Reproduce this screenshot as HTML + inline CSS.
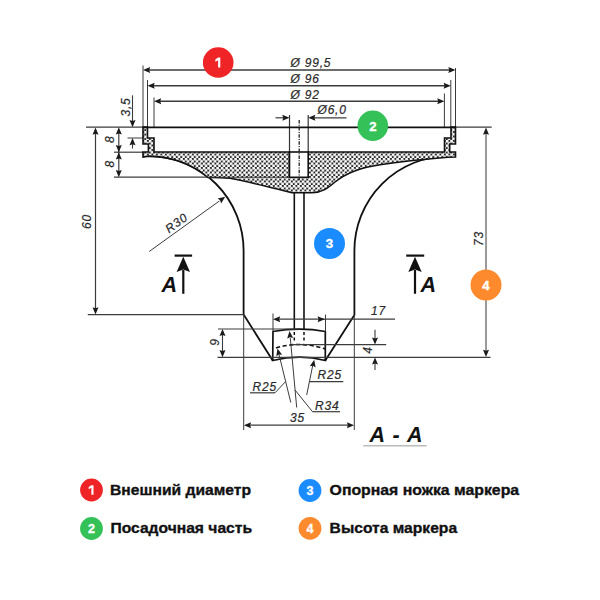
<!DOCTYPE html>
<html><head><meta charset="utf-8"><style>
html,body{margin:0;padding:0;background:#fff;width:600px;height:600px;overflow:hidden}
svg{display:block}
</style></head><body>
<svg width="600" height="600" viewBox="0 0 600 600">
<defs>
<pattern id="hx" patternUnits="userSpaceOnUse" width="4.5" height="4.5" x="0.3" y="0.5">
<rect width="4.5" height="4.5" fill="#2a2a2a"/>
<circle cx="1.125" cy="1.125" r="1.52" fill="#fff"/>
<circle cx="3.375" cy="3.375" r="1.52" fill="#fff"/>
</pattern>
</defs>
<rect width="600" height="600" fill="#fff"/>
<line x1="143.00" y1="65.50" x2="143.00" y2="127.00" stroke="#3c3c3c" stroke-width="1"/>
<line x1="455.50" y1="68.00" x2="455.50" y2="127.00" stroke="#3c3c3c" stroke-width="1"/>
<line x1="148.00" y1="70.00" x2="450.50" y2="70.00" stroke="#3c3c3c" stroke-width="1.4"/>
<polygon points="143.00,70.00 150.20,67.00 149.20,70.00 150.20,73.00" fill="#1a1a1a"/>
<polygon points="455.50,70.00 448.30,73.00 449.30,70.00 448.30,67.00" fill="#1a1a1a"/>
<line x1="147.50" y1="80.00" x2="147.50" y2="127.00" stroke="#3c3c3c" stroke-width="1"/>
<line x1="450.80" y1="80.00" x2="450.80" y2="127.00" stroke="#3c3c3c" stroke-width="1"/>
<line x1="152.50" y1="85.70" x2="445.80" y2="85.70" stroke="#3c3c3c" stroke-width="1.4"/>
<polygon points="147.50,85.70 154.70,82.70 153.70,85.70 154.70,88.70" fill="#1a1a1a"/>
<polygon points="450.80,85.70 443.60,88.70 444.60,85.70 443.60,82.70" fill="#1a1a1a"/>
<line x1="154.00" y1="97.50" x2="154.00" y2="127.00" stroke="#3c3c3c" stroke-width="1"/>
<line x1="444.40" y1="93.50" x2="444.40" y2="127.00" stroke="#3c3c3c" stroke-width="1"/>
<line x1="159.00" y1="101.30" x2="439.40" y2="101.30" stroke="#3c3c3c" stroke-width="1.4"/>
<polygon points="154.00,101.30 161.20,98.30 160.20,101.30 161.20,104.30" fill="#1a1a1a"/>
<polygon points="444.40,101.30 437.20,104.30 438.20,101.30 437.20,98.30" fill="#1a1a1a"/>
<line x1="289.50" y1="115.00" x2="289.50" y2="152.00" stroke="#333" stroke-width="1.2"/>
<line x1="308.20" y1="115.00" x2="308.20" y2="152.00" stroke="#333" stroke-width="1.2"/>
<line x1="275.50" y1="117.80" x2="285.00" y2="117.80" stroke="#3c3c3c" stroke-width="1.2"/>
<polygon points="289.50,117.80 282.30,120.80 283.30,117.80 282.30,114.80" fill="#1a1a1a"/>
<line x1="313.00" y1="117.80" x2="346.50" y2="117.80" stroke="#3c3c3c" stroke-width="1.2"/>
<polygon points="308.20,117.80 315.40,114.80 314.40,117.80 315.40,120.80" fill="#1a1a1a"/>
<line x1="86.00" y1="127.20" x2="143.00" y2="127.20" stroke="#3c3c3c" stroke-width="1.2"/>
<line x1="455.50" y1="127.20" x2="491.70" y2="127.20" stroke="#3c3c3c" stroke-width="1.2"/>
<line x1="114.00" y1="152.20" x2="143.00" y2="152.20" stroke="#3c3c3c" stroke-width="1.2"/>
<line x1="114.00" y1="177.20" x2="208.00" y2="177.20" stroke="#3c3c3c" stroke-width="1.2"/>
<line x1="127.50" y1="138.00" x2="143.00" y2="138.00" stroke="#3c3c3c" stroke-width="1"/>
<path d="M149,156.1 A94.5,94.5 0 0 1 243.6,250.6 L243.6,314.6 L272.7,360.5" fill="none" stroke="#111" stroke-width="1.8"/>
<path d="M448.9,156.1 A94.5,94.5 0 0 0 354.4,250.6 L354.4,315 L325.3,360.5" fill="none" stroke="#111" stroke-width="1.8"/>
<path d="M143,127 L147.5,127 L147.5,138 L154,138 L154,152 L289.5,152 L289.5,177.3 L308.2,177.3 L308.2,152 L444.5,152 L444.5,138 L451.0,138 L451.0,127 L455.5,127 L455.5,144 L449.7,144 L449.7,152 L455.5,152 L455.5,157 L448,157.2 C430,158.6 400,161.5 380,164.7 C360,167.5 345,174 335,182 C328,188 322,192.7 312,192.7 L292,192.6 C270,187.5 250,182 230,178.3 C220,177.5 214,177.4 208,177.5 A94.5,94.5 0 0 0 149,156.1 L143,157 L143,152 L148.4,152 L148.4,144 L143,144 Z" fill="url(#hx)" stroke="#111" stroke-width="1.6" stroke-linejoin="miter"/>
<rect x="289.5" y="152" width="18.69999999999999" height="25.30000000000001" fill="#fff" stroke="#111" stroke-width="1.6"/>
<line x1="299.2" y1="120" x2="299.2" y2="181" stroke="#222" stroke-width="1.3" stroke-dasharray="3.5,1.3,1,1.3"/>
<line x1="208.00" y1="177.20" x2="289.50" y2="177.20" stroke="#333" stroke-width="1.0"/>
<line x1="143.00" y1="127.30" x2="455.50" y2="127.30" stroke="#111" stroke-width="1.8"/>
<line x1="294.30" y1="192.50" x2="294.30" y2="330.00" stroke="#111" stroke-width="1.6"/>
<line x1="304.00" y1="192.50" x2="304.00" y2="330.00" stroke="#111" stroke-width="1.6"/>
<line x1="294.3" y1="332" x2="294.3" y2="341" stroke="#111" stroke-width="1.5" stroke-dasharray="3,2.5"/>
<line x1="304" y1="332" x2="304" y2="341" stroke="#111" stroke-width="1.5" stroke-dasharray="3,2.5"/>
<path d="M273,331.5 Q300,326.9 325.3,331.5 L325.3,360.5 Q300,353.9 272.7,360.5 Z" fill="none" stroke="#111" stroke-width="1.7"/>
<path d="M276,348 Q300,340.5 325,349" fill="none" stroke="#111" stroke-width="1.6" stroke-dasharray="4.2,2.6"/>
<line x1="95.50" y1="132.00" x2="95.50" y2="310.00" stroke="#3c3c3c" stroke-width="1.2"/>
<polygon points="95.50,127.50 98.50,134.70 95.50,133.70 92.50,134.70" fill="#1a1a1a"/>
<polygon points="95.50,314.50 92.50,307.30 95.50,308.30 98.50,307.30" fill="#1a1a1a"/>
<line x1="87.80" y1="314.70" x2="243.60" y2="314.70" stroke="#3c3c3c" stroke-width="1.2"/>
<line x1="118.80" y1="130.00" x2="118.80" y2="174.00" stroke="#3c3c3c" stroke-width="1.2"/>
<polygon points="118.80,127.30 121.80,134.50 118.80,133.50 115.80,134.50" fill="#1a1a1a"/>
<polygon points="118.80,152.20 115.80,145.00 118.80,146.00 121.80,145.00" fill="#1a1a1a"/>
<polygon points="118.80,152.20 121.80,159.40 118.80,158.40 115.80,159.40" fill="#1a1a1a"/>
<polygon points="118.80,177.20 115.80,170.00 118.80,171.00 121.80,170.00" fill="#1a1a1a"/>
<line x1="132.50" y1="95.30" x2="132.50" y2="122.00" stroke="#3c3c3c" stroke-width="1.1"/>
<polygon points="132.50,127.20 129.50,120.00 132.50,121.00 135.50,120.00" fill="#1a1a1a"/>
<line x1="132.50" y1="143.00" x2="132.50" y2="148.50" stroke="#3c3c3c" stroke-width="1.1"/>
<polygon points="132.50,138.00 135.50,145.20 132.50,144.20 129.50,145.20" fill="#1a1a1a"/>
<line x1="486.00" y1="133.00" x2="486.00" y2="351.00" stroke="#9a9a9a" stroke-width="2"/>
<polygon points="486.00,127.50 489.00,134.70 486.00,133.70 483.00,134.70" fill="#1a1a1a"/>
<polygon points="486.00,357.00 483.00,349.80 486.00,350.80 489.00,349.80" fill="#1a1a1a"/>
<line x1="217.50" y1="357.40" x2="490.50" y2="357.40" stroke="#3c3c3c" stroke-width="1.2"/>
<line x1="218.00" y1="329.00" x2="300.00" y2="329.00" stroke="#3c3c3c" stroke-width="1.2"/>
<line x1="222.50" y1="333.00" x2="222.50" y2="353.00" stroke="#3c3c3c" stroke-width="1.1"/>
<polygon points="222.50,328.90 225.50,336.10 222.50,335.10 219.50,336.10" fill="#1a1a1a"/>
<polygon points="222.50,357.30 219.50,350.10 222.50,351.10 225.50,350.10" fill="#1a1a1a"/>
<line x1="273.00" y1="313.50" x2="273.00" y2="331.50" stroke="#3c3c3c" stroke-width="1"/>
<line x1="325.50" y1="314.50" x2="325.50" y2="331.50" stroke="#3c3c3c" stroke-width="1"/>
<line x1="278.00" y1="319.20" x2="395.00" y2="319.20" stroke="#3c3c3c" stroke-width="1.3"/>
<polygon points="273.00,319.20 280.20,316.20 279.20,319.20 280.20,322.20" fill="#1a1a1a"/>
<polygon points="324.80,319.20 317.60,322.20 318.60,319.20 317.60,316.20" fill="#1a1a1a"/>
<line x1="375.00" y1="329.70" x2="375.00" y2="340.00" stroke="#3c3c3c" stroke-width="1.1"/>
<polygon points="375.00,344.60 372.00,337.40 375.00,338.40 378.00,337.40" fill="#1a1a1a"/>
<line x1="375.00" y1="362.00" x2="375.00" y2="370.00" stroke="#3c3c3c" stroke-width="1.1"/>
<polygon points="375.00,357.40 378.00,364.60 375.00,363.60 372.00,364.60" fill="#1a1a1a"/>
<line x1="292.00" y1="344.60" x2="386.20" y2="344.60" stroke="#3c3c3c" stroke-width="1.2"/>
<line x1="243.70" y1="314.60" x2="243.70" y2="430.00" stroke="#3c3c3c" stroke-width="1"/>
<line x1="354.30" y1="315.00" x2="354.30" y2="430.00" stroke="#3c3c3c" stroke-width="1"/>
<line x1="249.00" y1="425.20" x2="349.00" y2="425.20" stroke="#3c3c3c" stroke-width="1.2"/>
<polygon points="243.90,425.20 251.10,422.20 250.10,425.20 251.10,428.20" fill="#1a1a1a"/>
<polygon points="354.10,425.20 346.90,428.20 347.90,425.20 346.90,422.20" fill="#1a1a1a"/>
<line x1="279.00" y1="354.50" x2="290.80" y2="402.50" stroke="#3c3c3c" stroke-width="1"/>
<polygon points="277.50,348.50 282.13,354.77 278.98,354.52 276.31,356.21" fill="#1a1a1a"/>
<line x1="290.30" y1="338.00" x2="296.70" y2="407.50" stroke="#3c3c3c" stroke-width="1"/>
<polygon points="289.50,331.00 293.16,337.89 290.08,337.17 287.19,338.45" fill="#1a1a1a"/>
<line x1="250.00" y1="392.80" x2="275.00" y2="392.80" stroke="#3c3c3c" stroke-width="1.2"/>
<line x1="275.00" y1="392.80" x2="285.50" y2="381.70" stroke="#3c3c3c" stroke-width="1"/>
<line x1="295.00" y1="390.00" x2="312.50" y2="411.70" stroke="#3c3c3c" stroke-width="1"/>
<line x1="312.50" y1="411.70" x2="340.00" y2="411.70" stroke="#3c3c3c" stroke-width="1.2"/>
<line x1="313.00" y1="364.00" x2="306.70" y2="395.00" stroke="#3c3c3c" stroke-width="1"/>
<polygon points="314.20,359.80 315.63,367.47 312.91,365.86 309.77,366.22" fill="#1a1a1a"/>
<line x1="309.60" y1="381.70" x2="343.30" y2="381.70" stroke="#3c3c3c" stroke-width="1.2"/>
<line x1="149.20" y1="251.50" x2="219.50" y2="200.90" stroke="#3c3c3c" stroke-width="1"/>
<polygon points="225.20,196.75 221.11,203.39 220.17,200.37 217.60,198.52" fill="#1a1a1a"/>
<line x1="174.60" y1="255.60" x2="192.10" y2="255.60" stroke="#111" stroke-width="2.2"/>
<polygon points="183.3,256.7 176.60000000000002,272 183.3,269.5 190.0,272" fill="#111"/>
<line x1="183.30" y1="270.00" x2="183.30" y2="293.80" stroke="#111" stroke-width="2.2"/>
<line x1="406.20" y1="255.60" x2="424.20" y2="255.60" stroke="#111" stroke-width="2.2"/>
<polygon points="415,256.7 408.3,272 415,269.5 421.7,272" fill="#111"/>
<line x1="415.00" y1="270.00" x2="415.00" y2="293.80" stroke="#111" stroke-width="2.2"/>
<text x="290.5" y="66.5" font-size="12" font-style="italic" font-family="Liberation Sans, sans-serif" fill="#2a2a2a" letter-spacing="0.8" stroke="#2a2a2a" stroke-width="0.2">Ø 99,5</text>
<text x="290.5" y="82.5" font-size="12" font-style="italic" font-family="Liberation Sans, sans-serif" fill="#2a2a2a" letter-spacing="0.8" stroke="#2a2a2a" stroke-width="0.2">Ø 96</text>
<text x="290.5" y="98.5" font-size="12" font-style="italic" font-family="Liberation Sans, sans-serif" fill="#2a2a2a" letter-spacing="0.8" stroke="#2a2a2a" stroke-width="0.2">Ø 92</text>
<text x="317.5" y="114" font-size="12" font-style="italic" font-family="Liberation Sans, sans-serif" fill="#2a2a2a" letter-spacing="0.8" stroke="#2a2a2a" stroke-width="0.2">Ø6,0</text>
<text x="0" y="0" font-size="12" font-style="italic" text-anchor="middle" dominant-baseline="central" transform="translate(125.5,107) rotate(-90)" font-family="Liberation Sans, sans-serif" fill="#2a2a2a" letter-spacing="0.8" stroke="#2a2a2a" stroke-width="0.2">3,5</text>
<text x="0" y="0" font-size="12" font-style="italic" text-anchor="middle" dominant-baseline="central" transform="translate(109.5,139.2) rotate(-90)" font-family="Liberation Sans, sans-serif" fill="#2a2a2a" letter-spacing="0.8" stroke="#2a2a2a" stroke-width="0.2">8</text>
<text x="0" y="0" font-size="12" font-style="italic" text-anchor="middle" dominant-baseline="central" transform="translate(109.5,163.8) rotate(-90)" font-family="Liberation Sans, sans-serif" fill="#2a2a2a" letter-spacing="0.8" stroke="#2a2a2a" stroke-width="0.2">8</text>
<text x="0" y="0" font-size="12" font-style="italic" text-anchor="middle" dominant-baseline="central" transform="translate(87,221.5) rotate(-90)" font-family="Liberation Sans, sans-serif" fill="#2a2a2a" letter-spacing="0.8" stroke="#2a2a2a" stroke-width="0.2">60</text>
<text x="0" y="0" font-size="12" font-style="italic" text-anchor="middle" dominant-baseline="central" transform="translate(478.5,238.6) rotate(-90)" font-family="Liberation Sans, sans-serif" fill="#2a2a2a" letter-spacing="0.8" stroke="#2a2a2a" stroke-width="0.2">73</text>
<text x="0" y="0" font-size="12" font-style="italic" text-anchor="middle" dominant-baseline="central" transform="translate(215,342) rotate(-90)" font-family="Liberation Sans, sans-serif" fill="#2a2a2a" letter-spacing="0.8" stroke="#2a2a2a" stroke-width="0.2">9</text>
<text x="0" y="0" font-size="12" font-style="italic" text-anchor="middle" dominant-baseline="central" transform="translate(368,350) rotate(-90)" font-family="Liberation Sans, sans-serif" fill="#2a2a2a" letter-spacing="0.8" stroke="#2a2a2a" stroke-width="0.2">4</text>
<text x="0" y="0" font-size="12" font-style="italic" text-anchor="middle" dominant-baseline="central" transform="translate(176.5,223) rotate(-35.8)" font-family="Liberation Sans, sans-serif" fill="#2a2a2a" letter-spacing="0.8" stroke="#2a2a2a" stroke-width="0.2">R30</text>
<text x="371" y="314.6" font-size="12" font-style="italic" font-family="Liberation Sans, sans-serif" fill="#2a2a2a" letter-spacing="0.8" stroke="#2a2a2a" stroke-width="0.2">17</text>
<text x="252.5" y="390.8" font-size="12" font-style="italic" font-family="Liberation Sans, sans-serif" fill="#2a2a2a" letter-spacing="0.8" stroke="#2a2a2a" stroke-width="0.2">R25</text>
<text x="317.5" y="379" font-size="12" font-style="italic" font-family="Liberation Sans, sans-serif" fill="#2a2a2a" letter-spacing="0.8" stroke="#2a2a2a" stroke-width="0.2">R25</text>
<text x="315" y="410" font-size="12" font-style="italic" font-family="Liberation Sans, sans-serif" fill="#2a2a2a" letter-spacing="0.8" stroke="#2a2a2a" stroke-width="0.2">R34</text>
<text x="290" y="421.7" font-size="12" font-style="italic" font-family="Liberation Sans, sans-serif" fill="#2a2a2a" letter-spacing="0.8" stroke="#2a2a2a" stroke-width="0.2">35</text>
<text x="161.5" y="291.5" font-size="21.6" font-family="Liberation Sans, sans-serif" fill="#111" font-weight="bold" font-style="italic">A</text>
<text x="420.5" y="292.3" font-size="21.6" font-family="Liberation Sans, sans-serif" fill="#111" font-weight="bold" font-style="italic">A</text>
<text x="369.5" y="441.5" font-size="21.5" letter-spacing="1.1" font-family="Liberation Sans, sans-serif" fill="#111" font-weight="bold" font-style="italic">A - A</text>
<line x1="363.30" y1="445.80" x2="426.70" y2="445.80" stroke="#bbb" stroke-width="1.5"/>
<circle cx="218.2" cy="62.5" r="15.3" fill="#ee2426"/><path d="M215.30,59.50 L218.10,57.51 L220.30,57.51 L220.30,67.50 L218.10,67.50 L218.10,60.20 L215.30,61.70 Z" fill="#fff"/>
<circle cx="372.8" cy="125.8" r="15.3" fill="#34c158"/><text x="372.8" y="130.55" font-size="13.2" font-weight="bold" text-anchor="middle" font-family="Liberation Sans, sans-serif" fill="#fff" stroke="#fff" stroke-width="0.35">2</text>
<circle cx="329.5" cy="243.5" r="15.5" fill="#1a8cff"/><text x="329.5" y="248.25" font-size="13.2" font-weight="bold" text-anchor="middle" font-family="Liberation Sans, sans-serif" fill="#fff" stroke="#fff" stroke-width="0.35">3</text>
<circle cx="486" cy="285" r="15.5" fill="#fd8a2c"/><text x="486" y="289.75" font-size="13.2" font-weight="bold" text-anchor="middle" font-family="Liberation Sans, sans-serif" fill="#fff" stroke="#fff" stroke-width="0.35">4</text>
<circle cx="91.5" cy="490" r="11.4" fill="#ee2426"/><path d="M88.70,487.11 L91.39,485.19 L93.51,485.19 L93.51,494.81 L91.39,494.81 L91.39,487.79 L88.70,489.23 Z" fill="#fff"/>
<circle cx="91.5" cy="528.5" r="11.4" fill="#34c158"/><text x="91.5" y="533.00" font-size="12.5" font-weight="bold" text-anchor="middle" font-family="Liberation Sans, sans-serif" fill="#fff" stroke="#fff" stroke-width="0.35">2</text>
<circle cx="310" cy="490.5" r="11.4" fill="#1a8cff"/><text x="310" y="495.00" font-size="12.5" font-weight="bold" text-anchor="middle" font-family="Liberation Sans, sans-serif" fill="#fff" stroke="#fff" stroke-width="0.35">3</text>
<circle cx="310" cy="528.3" r="11.4" fill="#fd8a2c"/><text x="310" y="532.80" font-size="12.5" font-weight="bold" text-anchor="middle" font-family="Liberation Sans, sans-serif" fill="#fff" stroke="#fff" stroke-width="0.35">4</text>
<text x="110" y="494.9" textLength="141" font-family="Liberation Sans, sans-serif" fill="#111" font-weight="bold" font-size="14.8" stroke="#111" stroke-width="0.35" lengthAdjust="spacingAndGlyphs">Внешний диаметр</text>
<text x="110.5" y="533.0" textLength="141.5" font-family="Liberation Sans, sans-serif" fill="#111" font-weight="bold" font-size="14.8" stroke="#111" stroke-width="0.35" lengthAdjust="spacingAndGlyphs">Посадочная часть</text>
<text x="329.6" y="494.9" textLength="189.5" font-family="Liberation Sans, sans-serif" fill="#111" font-weight="bold" font-size="14.8" stroke="#111" stroke-width="0.35" lengthAdjust="spacingAndGlyphs">Опорная ножка маркера</text>
<text x="329.6" y="533.0" textLength="127.5" font-family="Liberation Sans, sans-serif" fill="#111" font-weight="bold" font-size="14.8" stroke="#111" stroke-width="0.35" lengthAdjust="spacingAndGlyphs">Высота маркера</text>
</svg>
</body></html>
